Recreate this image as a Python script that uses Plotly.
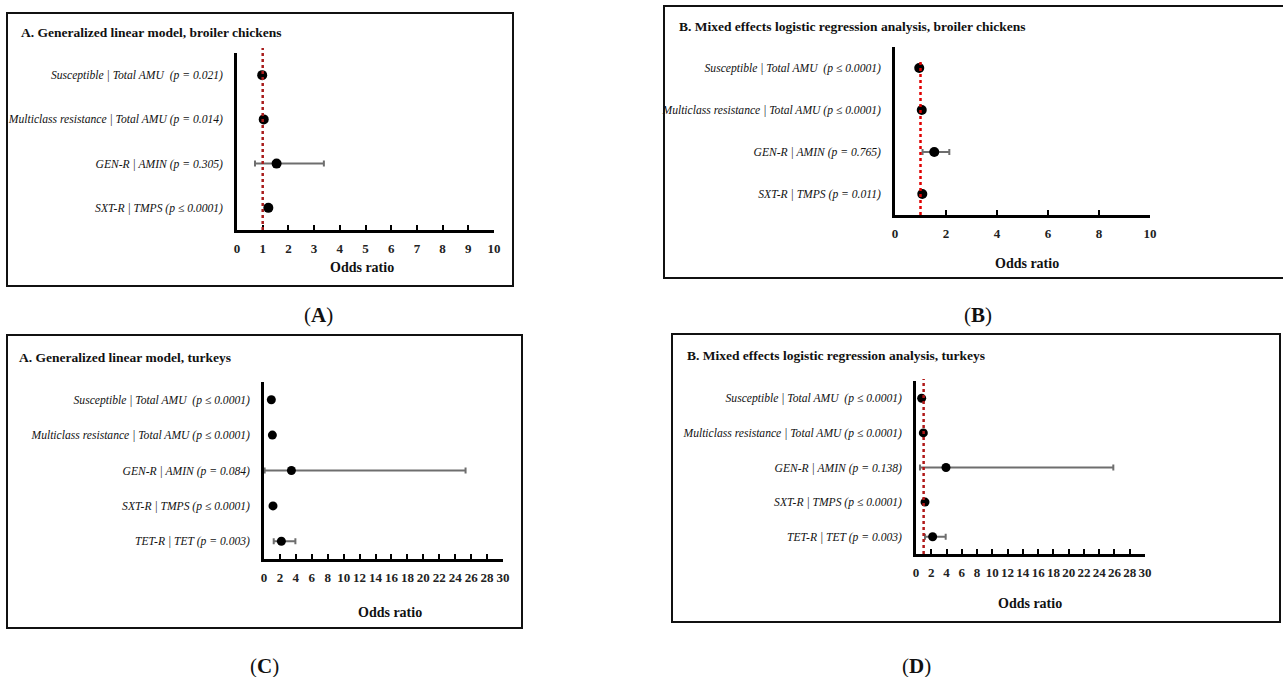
import plotly.graph_objects as go

W, H = 1283, 677

# ---------------- data ----------------
labels_A = ["Susceptible | Total AMU  (<i>p</i> = 0.021)",
            "Multiclass resistance | Total AMU (<i>p</i> = 0.014)",
            "GEN-R | AMIN (<i>p</i> = 0.305)",
            "SXT-R | TMPS (<i>p</i> ≤ 0.0001)"]
or_A = [0.98, 1.04, 1.54, 1.22]
lo_A = [0.98, 1.04, 0.70, 1.22]
hi_A = [0.98, 1.04, 3.38, 1.22]

labels_B = ["Susceptible | Total AMU  (<i>p</i> ≤ 0.0001)",
            "Multiclass resistance | Total AMU (<i>p</i> ≤ 0.0001)",
            "GEN-R | AMIN (<i>p</i> = 0.765)",
            "SXT-R | TMPS (<i>p</i> = 0.011)"]
or_B = [0.95, 1.05, 1.54, 1.07]
lo_B = [0.95, 1.05, 1.08, 1.07]
hi_B = [0.95, 1.05, 2.13, 1.07]

labels_C = ["Susceptible | Total AMU  (<i>p</i> ≤ 0.0001)",
            "Multiclass resistance | Total AMU (<i>p</i> ≤ 0.0001)",
            "GEN-R | AMIN (<i>p</i> = 0.084)",
            "SXT-R | TMPS (<i>p</i> ≤ 0.0001)",
            "TET-R | TET (<i>p</i> = 0.003)"]
or_C = [0.92, 1.05, 3.44, 1.13, 2.18]
lo_C = [0.92, 1.05, 0.08, 1.13, 1.22]
hi_C = [0.92, 1.05, 25.3, 1.13, 3.94]

labels_D = ["Susceptible | Total AMU  (<i>p</i> ≤ 0.0001)",
            "Multiclass resistance | Total AMU (<i>p</i> ≤ 0.0001)",
            "GEN-R | AMIN (<i>p</i> = 0.138)",
            "SXT-R | TMPS (<i>p</i> ≤ 0.0001)",
            "TET-R | TET (<i>p</i> = 0.003)"]
or_D = [0.74, 0.96, 3.93, 1.18, 2.18]
lo_D = [0.74, 0.96, 0.52, 1.18, 1.18]
hi_D = [0.74, 0.96, 25.85, 1.18, 3.89]

titles = ["A. Generalized linear model, broiler chickens",
          "B. Mixed effects logistic regression analysis, broiler chickens",
          "A. Generalized linear model, turkeys",
          "B. Mixed effects logistic regression analysis, turkeys"]
panel_tags = ["A", "B", "C", "D"]
x_ticks_10 = list(range(0, 11, 1))
x_ticks_B = list(range(0, 11, 2))
x_ticks_30 = list(range(0, 31, 2))
ref_line = 1

# ---------------- layout helpers ----------------
def fx(px):
    return px / W

def fy(py):
    return 1 - py / H

SERIF = "Liberation Serif"

panels = [
    dict(labels=labels_A, orv=or_A, lo=lo_A, hi=hi_A, xr=[0, 10], ticks=x_ticks_10,
         ax=(237, 494, 53, 230), box=(7, 13, 513, 286), open_right=False, title_xy=(19, 33),
         xlabel_xy=(362, 268), tag_xy=(318, 315), ref=True, ref_top=48, ref_col="#a81c1c",
         msize=10),
    dict(labels=labels_B, orv=or_B, lo=lo_B, hi=hi_B, xr=[0, 10], ticks=x_ticks_B,
         ax=(895, 1150, 47, 215), box=(664, 6, 1400, 278), open_right=True, title_xy=(677, 26),
         xlabel_xy=(1027, 263), tag_xy=(978, 315), ref=True, ref_top=62, ref_col="#e00000",
         msize=10),
    dict(labels=labels_C, orv=or_C, lo=lo_C, hi=hi_C, xr=[0, 30], ticks=x_ticks_30,
         ax=(264, 503, 382, 559), box=(7, 335, 522, 628), open_right=False, title_xy=(17, 357),
         xlabel_xy=(390, 612), tag_xy=(264, 666), ref=False, ref_top=0, ref_col="",
         msize=9),
    dict(labels=labels_D, orv=or_D, lo=lo_D, hi=hi_D, xr=[0, 30], ticks=x_ticks_30,
         ax=(916, 1145, 381, 554), box=(672, 334, 1280, 622), open_right=False, title_xy=(685, 355),
         xlabel_xy=(1030, 603), tag_xy=(916, 666), ref=True, ref_top=379, ref_col="#b01818",
         msize=9),
]

fig = go.Figure()
shapes = []
annotations = []

for i, p in enumerate(panels):
    n = len(p["labels"])
    ypos = list(range(n, 0, -1))
    xa = "x" if i == 0 else f"x{i+1}"
    ya = "y" if i == 0 else f"y{i+1}"
    xkey = "xaxis" if i == 0 else f"xaxis{i+1}"
    ykey = "yaxis" if i == 0 else f"yaxis{i+1}"
    x0, x1, y0, y1 = p["ax"]

    if p["ref"]:
        shapes.append(dict(type="line", xref=xa, yref="paper",
                           x0=ref_line, x1=ref_line, y0=fy(y1), y1=fy(p["ref_top"]),
                           line=dict(color=p["ref_col"], width=2.5, dash="dot"), layer="above"))

    fig.add_trace(go.Scatter(
        x=p["orv"], y=ypos, mode="markers",
        marker=dict(color="black", size=p["msize"]),
        error_x=dict(type="data", symmetric=False,
                     array=[h - o for h, o in zip(p["hi"], p["orv"])],
                     arrayminus=[o - l for o, l in zip(p["orv"], p["lo"])],
                     color="#6e6e6e", thickness=2, width=3),
        xaxis=xa, yaxis=ya, cliponaxis=False, showlegend=False, hoverinfo="x"))

    fig.layout[xkey] = dict(
        domain=[fx(x0), fx(x1)], range=p["xr"], tickvals=p["ticks"],
        ticktext=[f"<b>{t}</b>" for t in p["ticks"]], tickangle=0,
        showgrid=False, zeroline=False, showline=True, linecolor="black", linewidth=2.5,
        ticks="inside", ticklen=5, tickwidth=2, tickcolor="black",
        ticklabelstandoff=5, automargin=False,
        tickfont=dict(family=SERIF, size=13, color="#222"),
        anchor=ya, fixedrange=True)
    fig.layout[ykey] = dict(
        domain=[fy(y1), fy(y0)], range=[0.5, n + 0.5],
        tickvals=ypos, ticktext=[f"<i>{t}</i>" for t in p["labels"]],
        showgrid=False, zeroline=False, showline=True, linecolor="black", linewidth=2.5,
        ticks="", ticklabelstandoff=9, automargin=False,
        tickfont=dict(family=SERIF, size=11.6, color="#111"),
        anchor=xa, fixedrange=True)

    bx0, by0, bx1, by1 = p["box"]
    if p["open_right"]:
        path = (f"M {fx(bx1)},{fy(by0)} L {fx(bx0)},{fy(by0)} "
                f"L {fx(bx0)},{fy(by1)} L {fx(bx1)},{fy(by1)}")
        shapes.append(dict(type="path", xref="paper", yref="paper", path=path,
                           line=dict(color="#111", width=2), layer="below"))
    else:
        shapes.append(dict(type="rect", xref="paper", yref="paper",
                           x0=fx(bx0), x1=fx(bx1), y0=fy(by1), y1=fy(by0),
                           line=dict(color="#111", width=2), fillcolor="rgba(0,0,0,0)",
                           layer="below"))

    tx, ty = p["title_xy"]
    annotations.append(dict(text=f"<b>{titles[i]}</b>", xref="paper", yref="paper",
                            x=fx(tx), y=fy(ty), xanchor="left", yanchor="middle",
                            showarrow=False, font=dict(family=SERIF, size=13.5, color="#111")))
    lx, ly = p["xlabel_xy"]
    annotations.append(dict(text="<b>Odds ratio</b>", xref="paper", yref="paper",
                            x=fx(lx), y=fy(ly), xanchor="center", yanchor="middle",
                            showarrow=False, font=dict(family=SERIF, size=14, color="#111")))
    gx, gy = p["tag_xy"]
    annotations.append(dict(text=f"(<b>{panel_tags[i]}</b>)", xref="paper", yref="paper",
                            x=fx(gx), y=fy(gy), xanchor="center", yanchor="middle",
                            showarrow=False, font=dict(family=SERIF, size=21, color="#111")))

fig.update_layout(
    width=W, height=H, margin=dict(l=0, r=0, t=0, b=0, autoexpand=False),
    paper_bgcolor="white", plot_bgcolor="white",
    shapes=shapes, annotations=annotations, showlegend=False)

fig.write_html("out.html", config=dict(displayModeBar=False),
               post_script="document.body.style.margin='0px';document.body.style.overflow='hidden';")
